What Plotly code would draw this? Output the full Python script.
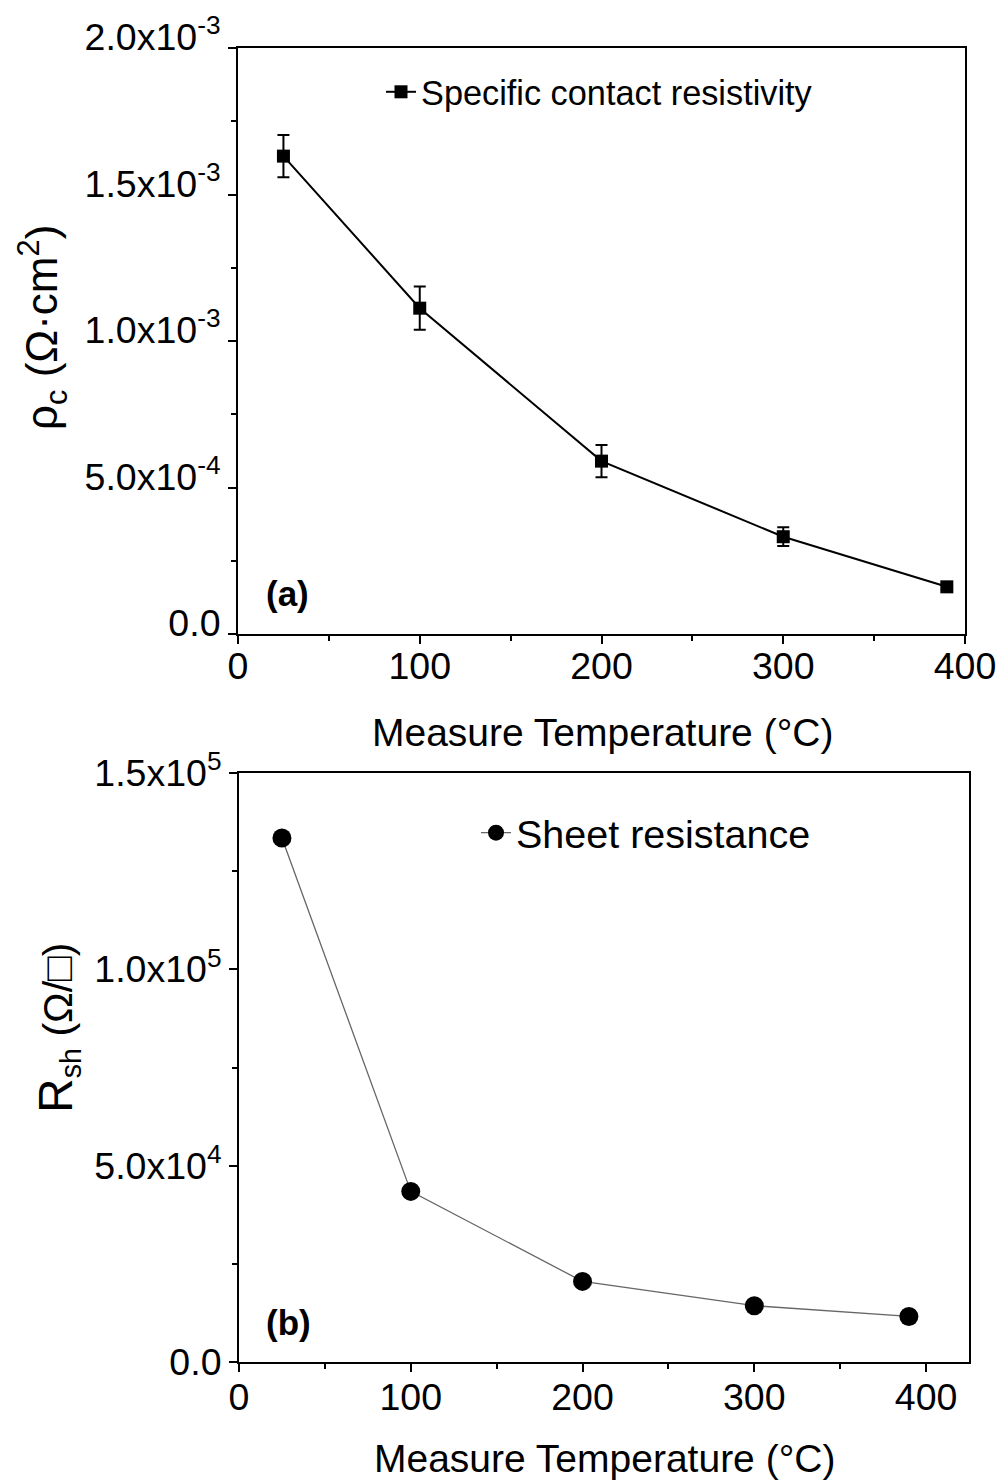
import plotly.graph_objects as go

# ---- data ----
temp = [25, 100, 200, 300, 390]
rho_c = [1.631e-3, 1.112e-3, 0.590e-3, 0.332e-3, 0.161e-3]
rho_c_err = [0.072e-3, 0.074e-3, 0.055e-3, 0.032e-3, 0.010e-3]
r_sh = [133450, 43450, 20530, 14340, 11610]

x_ticks = [0, 100, 200, 300, 400]
x_minor = [50, 150, 250, 350]
y1_ticks = [0, 5e-4, 1e-3, 1.5e-3, 2e-3]
y1_ticktext = ["0.0", "5.0x10<sup>-4</sup>", "1.0x10<sup>-3</sup>",
               "1.5x10<sup>-3</sup>", "2.0x10<sup>-3</sup>"]
y1_minor = [2.5e-4, 7.5e-4, 1.25e-3, 1.75e-3]
y2_ticks = [0, 5e4, 1e5, 1.5e5]
y2_ticktext = ["0.0", "5.0x10<sup>4</sup>", "1.0x10<sup>5</sup>", "1.5x10<sup>5</sup>"]
y2_minor = [2.5e4, 7.5e4, 1.25e5]

FONT = "Arial, 'Liberation Sans', sans-serif"
W, H = 1002, 1483

fig = go.Figure()

fig.add_trace(go.Scatter(
    x=temp, y=rho_c, mode="lines+markers",
    name="Specific contact resistivity",
    line=dict(color="black", width=2),
    marker=dict(symbol="square", size=13, color="black"),
    error_y=dict(type="data", array=rho_c_err, visible=True,
                 color="black", thickness=2, width=6),
    xaxis="x", yaxis="y", legend="legend",
))

fig.add_trace(go.Scatter(
    x=temp, y=r_sh, mode="lines+markers",
    name="Sheet resistance",
    line=dict(color="#666666", width=1.3),
    marker=dict(symbol="circle", size=19, color="black"),
    xaxis="x2", yaxis="y2", legend="legend2",
))


def py(p):
    return 1 - p / H


def px_(p):
    return p / W


axis_common = dict(
    showline=True, linecolor="black", linewidth=2, mirror=True,
    ticks="outside", ticklen=8, tickwidth=2, tickcolor="black",
    showgrid=False, zeroline=False, automargin=False,
    tickfont=dict(family=FONT, size=37.5, color="black"),
)
minor_common = dict(ticklen=5, tickwidth=2, ticks="outside", tickcolor="black")

fig.update_layout(
    width=W, height=H,
    margin=dict(l=0, r=0, t=0, b=0, autoexpand=False),
    paper_bgcolor="white", plot_bgcolor="white",
    font=dict(family=FONT, color="black"),
    xaxis=dict(domain=[px_(238), px_(965)], range=[0, 400], anchor="y",
               tickmode="array", tickvals=x_ticks, ticklabelstandoff=-10,
               minor=dict(tickvals=x_minor, **minor_common),
               **axis_common),
    yaxis=dict(domain=[py(634), py(48)], range=[0, 2e-3], anchor="x",
               tickmode="array", tickvals=y1_ticks, ticktext=y1_ticktext,
               ticklabelshift=-11,
               minor=dict(tickvals=y1_minor, **minor_common),
               **axis_common),
    xaxis2=dict(domain=[px_(239), px_(969)], range=[0, 425], anchor="y2",
                tickmode="array", tickvals=x_ticks, ticklabelstandoff=-7,
                minor=dict(tickvals=x_minor, **minor_common),
                **axis_common),
    yaxis2=dict(domain=[py(1362), py(773)], range=[0, 1.5e5], anchor="x2",
                tickmode="array", tickvals=y2_ticks, ticktext=y2_ticktext,
                minor=dict(tickvals=y2_minor, **minor_common),
                **axis_common),
    legend=dict(x=px_(381), y=py(92), xanchor="left", yanchor="middle",
                bgcolor="rgba(0,0,0,0)", borderwidth=0,
                font=dict(family=FONT, size=34.3, color="black")),
    legend2=dict(x=px_(476), y=py(833), xanchor="left", yanchor="middle",
                 bgcolor="rgba(0,0,0,0)", borderwidth=0,
                 font=dict(family=FONT, size=39.5, color="black")),
    showlegend=True,
)

annotations = [
    # x axis titles
    dict(text="Measure Temperature (°C)", x=px_(602), y=py(732), xref="paper", yref="paper",
         xanchor="center", yanchor="middle", showarrow=False,
         font=dict(family=FONT, size=39, color="black")),
    dict(text="Measure Temperature (°C)", x=px_(604), y=py(1458), xref="paper", yref="paper",
         xanchor="center", yanchor="middle", showarrow=False,
         font=dict(family=FONT, size=39, color="black")),
    # y axis titles
    dict(text="ρ<sub>c</sub> (Ω·cm<sup>2</sup>)", x=px_(42), y=py(328), xref="paper", yref="paper",
         xanchor="center", yanchor="middle", textangle=-90, showarrow=False,
         font=dict(family=FONT, size=44, color="black")),
    dict(text="<span style='font-size:48px'>R</span><sub>sh</sub> (Ω/□)", x=px_(58), y=py(1028),
         xref="paper", yref="paper",
         xanchor="center", yanchor="middle", textangle=-90, showarrow=False,
         font=dict(family=FONT, size=41, color="black")),
    # panel labels
    dict(text="<b>(a)</b>", x=px_(264), y=py(593), xref="paper", yref="paper",
         xanchor="left", yanchor="middle", showarrow=False,
         font=dict(family=FONT, size=35, color="black")),
    dict(text="<b>(b)</b>", x=px_(264), y=py(1322), xref="paper", yref="paper",
         xanchor="left", yanchor="middle", showarrow=False,
         font=dict(family=FONT, size=35, color="black")),
]
fig.update_layout(annotations=annotations)

fig.write_html("out.html")
